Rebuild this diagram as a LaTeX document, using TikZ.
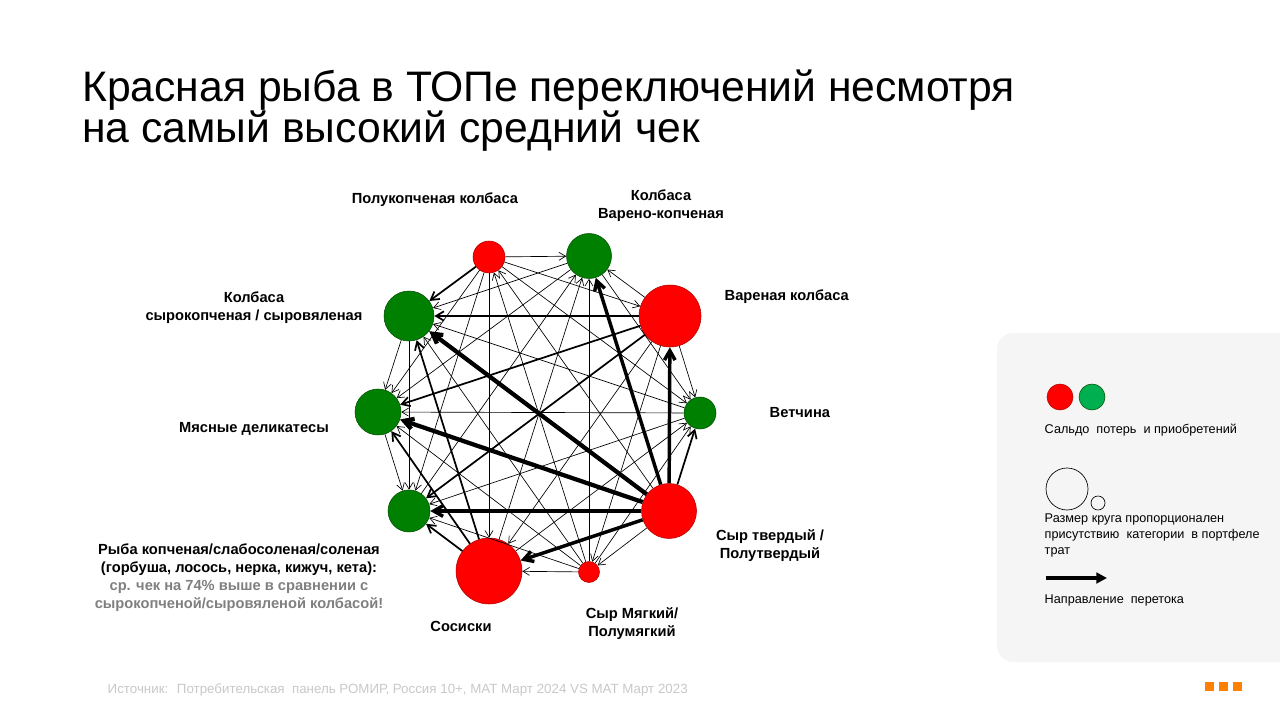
\documentclass[tikz,border=0pt]{standalone}
\usepackage{fontspec}
\setmainfont{Liberation Sans}
\usepackage{tikz}
\usetikzlibrary{
	arrows.meta
}
\definecolor{lossred}{HTML}{FF0000}
\definecolor{lossline}{HTML}{B00000}
\definecolor{gaingreen}{HTML}{008000}
\definecolor{gainline}{HTML}{004D00}
\definecolor{keygreen}{HTML}{00B050}
\definecolor{notegray}{HTML}{7F7F7F}
\definecolor{srcgray}{HTML}{C8C8C8}
\definecolor{keyfill}{HTML}{F5F5F5}
\definecolor{brandorange}{HTML}{FF8000}

\begin{document}
\begin{tikzpicture}[x=0.75pt,y=-0.75pt,
		cat/.style={circle,draw,line width=0.4pt,inner sep=0pt,minimum size=#1*1.5pt},
		loss/.style={cat=#1,fill=lossred,draw=lossline},
		gain/.style={cat=#1,fill=gaingreen,draw=gainline},
		catlabel/.style={font=\bfseries\fontsize{11}{13.5}\selectfont,align=center},
		keytext/.style={anchor=west,align=left,font=\fontsize{9.5}{12}\selectfont},
		thinflow/.style={-{Straight Barb[length=5pt,width=6pt]},line width=0.5pt},
		midflow/.style={-{Straight Barb[length=6pt,width=7pt]},line width=1.3pt},
		bigflow/.style={-{Straight Barb[length=7pt,width=8pt]},line width=2.6pt}
	]
		\useasboundingbox (0,0) rectangle (1280,720);

		\node[anchor=base west,align=left,inner sep=0pt,font=\fontsize{32}{30}\selectfont] (title) at (82,143)
			{Красная рыба в ТОПе переключений несмотря\\на самый высокий средний чек};

		\draw
			node[loss=16]   (pk)   at (489,257) {}
			node[gain=22.5] (vk)   at (589,256) {}
			node[loss=31]   (var)  at (670,316) {}
			node[gain=16]   (vet)  at (700,413) {}
			node[loss=27.5] (st)   at (669,511) {}
			node[loss=10.5] (sm)   at (589,572) {}
			node[loss=33]   (sos)  at (489,571) {}
			node[gain=21]   (ryba) at (409,511) {}
			node[gain=23]   (myas) at (378,412) {}
			node[gain=25]   (sk)   at (409,316) {}

			(pk) edge[thinflow] (vk)
			(pk) edge[thinflow] (var)
			(pk) edge[thinflow] (vet)
			(st) edge[thinflow] (pk)
			(sm) edge[thinflow] (pk)
			(pk) edge[thinflow] (sos)
			(pk) edge[thinflow] (ryba)
			(pk) edge[thinflow] (myas)
			(pk) edge[midflow]  (sk)

			(var)  edge[thinflow] (vk)
			(vk)   edge[thinflow] (vet)
			(sm)   edge[thinflow] (vk)
			(sos)  edge[thinflow] (vk)
			(ryba) edge[thinflow] (vk)
			(vk)   edge[thinflow] (myas)
			(vk)   edge[thinflow] (sk)

			(var) edge[thinflow] (vet)
			(var) edge[thinflow] (sm)
			(var) edge[thinflow] (sos)
			(var) edge[midflow]  (ryba)
			(var) edge[midflow]  (myas)
			(var) edge[midflow]  (sk)

			(sm)  edge[thinflow] (vet)
			(sos) edge[thinflow] (vet)
			(vet) edge[thinflow] (ryba)
			(vet) edge[thinflow] (myas)
			(vet) edge[thinflow] (sk)

			(st) edge[thinflow] (sm)
			(st) edge[midflow]  (vet)
			(st) edge[bigflow]  (vk)
			(st) edge[bigflow]  (var)
			(st) edge[bigflow]  (sos)
			(st) edge[bigflow]  (ryba)
			(st) edge[bigflow,line width=3.2pt] (myas)
			(st) edge[bigflow,line width=3.2pt] (sk)

			(sm) edge[thinflow] (sos)
			(sm) edge[thinflow] (ryba)
			(sm) edge[thinflow] (myas)
			(sm) edge[thinflow] (sk)

			(sos) edge[midflow] (ryba)
			(sos) edge[midflow] (myas)
			(sos) edge[midflow] (sk)

			(myas) edge[thinflow] (ryba)
			(sk)   edge[thinflow] (ryba)
			(sk)   edge[thinflow] (myas)
		;

		\node[catlabel] (lpk)   at (435,200) {Полукопченая колбаса};
		\node[catlabel] (lvk)   at (661,206) {Колбаса\\Варено-копченая};
		\node[catlabel,anchor=west] (lvar) at (720,297) {Вареная колбаса};
		\node[catlabel,anchor=west] (lvet) at (765,413) {Ветчина};
		\node[catlabel] (lst)   at (770,546) {Сыр твердый /\\Полутвердый};
		\node[catlabel] (lsm)   at (632,624) {Сыр Мягкий/\\Полумягкий};
		\node[catlabel] (lsos)  at (461,626) {Сосиски};
		\node[catlabel] (lryba) at (239,578) {Рыба копченая/слабосоленая/соленая\\(горбуша, лосось, нерка, кижуч, кета):\\
			\textcolor{notegray}{ср. чек на 74\% выше в сравнении с}\\
			\textcolor{notegray}{сырокопченой/сыровяленой колбасой!}};
		\node[catlabel] (lmyas) at (254,429) {Мясные деликатесы};
		\node[catlabel] (lsk)   at (254,308) {Колбаса\\сырокопченая / сыровяленая};

		\fill[keyfill,rounded corners=12pt] (997,333) rectangle (1310,662);
		\node[circle,draw=lossline,fill=lossred,line width=0.4pt,minimum size=19.5pt,inner sep=0pt] (keyloss) at (1060,397) {};
		\node[circle,draw=gainline,fill=keygreen,line width=0.4pt,minimum size=19.5pt,inner sep=0pt] (keygain) at (1092,397) {};
		\node[keytext] (keysaldo) at (1040,430) {Сальдо~ потерь~ и приобретений};
		\node[keytext] (keysize) at (1040,535) {Размер круга пропорционален\\присутствию~ категории~ в портфеле\\трат};
		\node[circle,draw,line width=0.5pt,minimum size=31.5pt,inner sep=0pt] (keybig) at (1067,489) {};
		\node[circle,draw,line width=0.5pt,minimum size=10.5pt,inner sep=0pt] (keysmall) at (1098,503) {};
		\coordinate (keyfrom) at (1046,578);
		\coordinate (keyto) at (1107,578);
		\draw[-{Triangle[length=8pt,width=8pt]},line width=2.6pt] (keyfrom) -- (keyto);
		\node[keytext] (keyflow) at (1040,600) {Направление~ перетока};

		\node[anchor=west,text=srcgray,font=\fontsize{10}{12}\selectfont] (source) at (103,690)
			{Источник:~ Потребительская~ панель РОМИР, Россия 10+, МАТ Март 2024 VS МАТ Март 2023};

		\foreach \i/\x in {1/1209,2/1223,3/1237}
			\fill[brandorange] (\x-4.5,682) rectangle (\x+4.5,691);
	\end{tikzpicture}
\end{document}
